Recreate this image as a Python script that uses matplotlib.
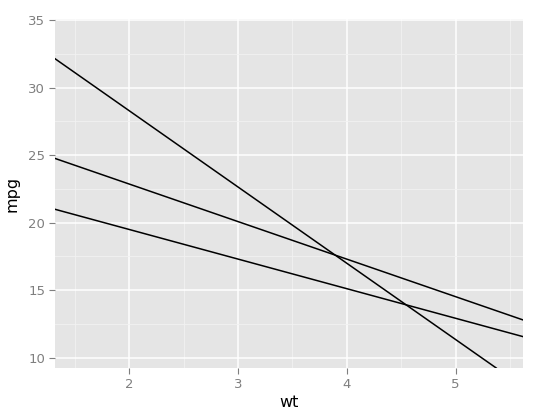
import matplotlib
matplotlib.use("Agg")
from matplotlib import pyplot as plt
from matplotlib.ticker import MultipleLocator

# per-cyl lm(mpg ~ wt) coefficients
cyl = [4, 6, 8]
intercepts = [39.571, 28.409, 23.868]
slopes = [-5.647, -2.780, -2.192]

x_ticks = [2, 3, 4, 5]
y_ticks = [10, 15, 20, 25, 30, 35]
x_lim = (1.317, 5.620)
y_lim = (9.225, 35.075)

fig = plt.figure(figsize=(5.43, 4.17), dpi=100)
ax = fig.add_axes([55 / 543, 49 / 417, 468 / 543, 349 / 417])
ax.set_facecolor("#E5E5E5")

for a, b in zip(intercepts, slopes):
    ax.axline((0, a), slope=b, color="black", linewidth=1.1, zorder=3)

ax.set_xlim(*x_lim)
ax.set_ylim(*y_lim)
ax.set_xticks(x_ticks)
ax.set_yticks(y_ticks)
ax.xaxis.set_minor_locator(MultipleLocator(0.5))
ax.yaxis.set_minor_locator(MultipleLocator(2.5))

ax.grid(which="major", color="white", linewidth=1.1)
ax.grid(which="minor", color="#F2F2F2", linewidth=0.6)
ax.set_axisbelow(True)

for s in ax.spines.values():
    s.set_visible(False)

ax.tick_params(which="major", length=4, width=0.8, color="#7F7F7F",
               labelcolor="#7F7F7F", labelsize=9.5, pad=3)
ax.tick_params(which="minor", length=0)

ax.set_xlabel("wt", fontsize=11.5, labelpad=3)
ax.set_ylabel("mpg", fontsize=11.5, labelpad=6)

fig.savefig("out.png", dpi=100)
